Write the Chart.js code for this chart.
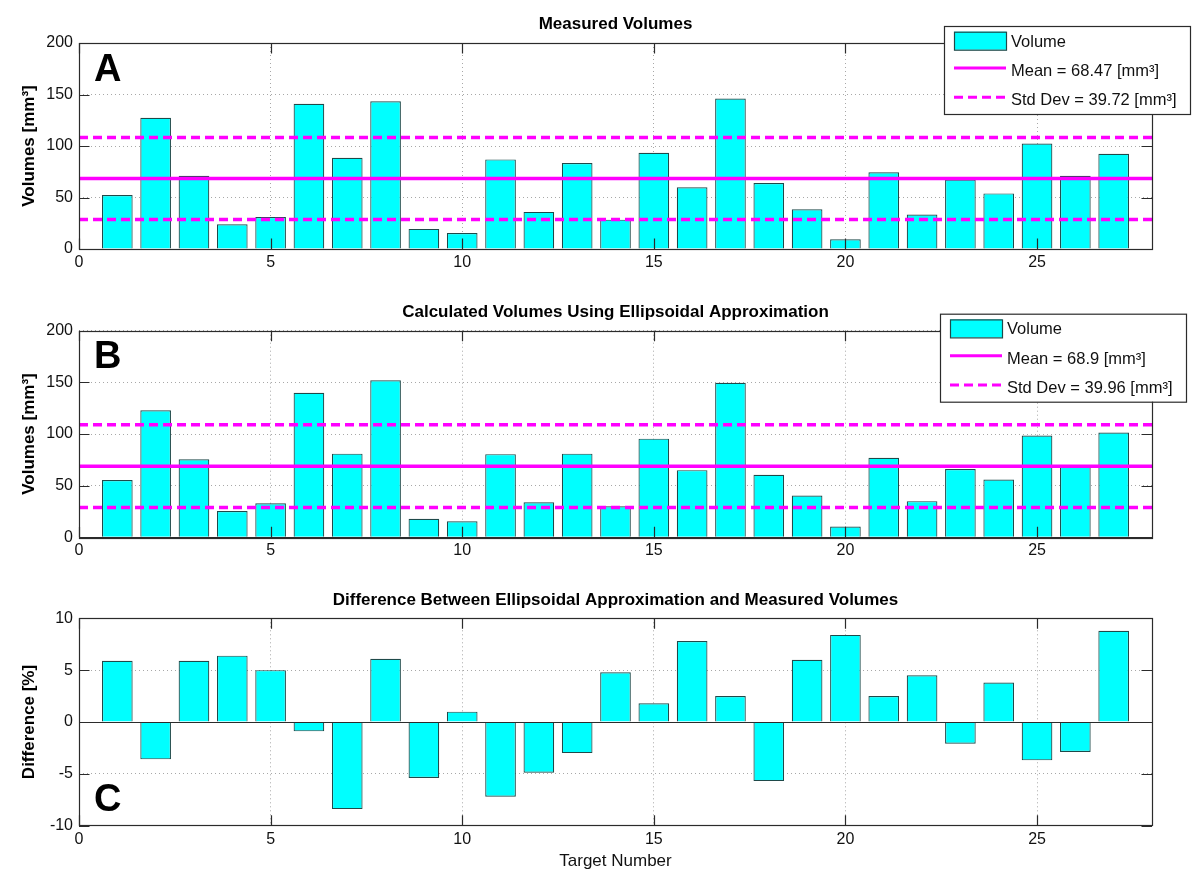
<!DOCTYPE html>
<html>
<head>
<meta charset="utf-8">
<title>Measured vs Ellipsoidal Volumes</title>
<script src="https://cdn.jsdelivr.net/npm/chart.js@4.4.0/dist/chart.umd.min.js"></script>
<style>
  html, body { margin: 0; padding: 0; background: #fff; }
  #wrap { position: relative; width: 1200px; height: 886px; }
  #wrap canvas { position: absolute; left: 0; }
</style>
</head>
<body>
<div id="wrap">
  <canvas id="chartA" width="1200" height="290" style="top:0"></canvas>
  <canvas id="chartB" width="1200" height="280" style="top:290px"></canvas>
  <canvas id="chartC" width="1200" height="316" style="top:570px"></canvas>
</div>
<script>
// ---- data ----
const targets = [1, 2, 3, 4, 5, 6, 7, 8, 9, 10, 11, 12, 13, 14, 15, 16, 17, 18, 19, 20, 21, 22, 23, 24, 25, 26, 27];
const measuredVolumes = [52.5, 127.5, 71, 24, 31, 141, 88.5, 143.5, 19.5, 15.5, 87, 36, 83.5, 28.5, 93.5, 60, 146, 64, 38.5, 9.5, 74.5, 33.5, 67.5, 54, 102.5, 71, 92.5];
const ellipsoidVolumes = [55.5, 123, 75.5, 25.5, 33, 140, 81, 152, 18, 15.5, 80.5, 34, 81, 30, 95.5, 65, 149.5, 60.5, 40.5, 10.5, 77, 35, 66, 56, 98.5, 69, 101.5];
const differences = [5.9, -3.6, 5.9, 6.4, 5.0, -0.9, -8.4, 6.1, -5.4, 1.0, -7.2, -4.9, -3.0, 4.8, 1.8, 7.8, 2.5, -5.7, 6.0, 8.4, 2.5, 4.5, -2.1, 3.8, -3.7, -2.9, 8.8];

const measuredMean = 68.47, measuredStd = 39.72;
const ellipsoidMean = 68.9, ellipsoidStd = 39.96;

const xRange = [0, 28];
const xTicks = [0, 5, 10, 15, 20, 25];
const volumeRange = [0, 200];
const volumeTicks = [0, 50, 100, 150, 200];
const diffRange = [-10, 10];
const diffTicks = [-10, -5, 0, 5, 10];

// ---- style ----
const FONT = "'Liberation Sans', Arial, Helvetica, sans-serif";
const axisColor = '#2b2b2b';
const gridColor = '#a8a8a8';
const barFill = '#00ffff';
const barEdge = '#1f4a4a';
const magenta = '#ff00ff';

Chart.defaults.font.family = FONT;
Chart.defaults.color = '#111';

function toPoints(values) {
  return targets.map((t, i) => ({ x: t, y: values[i] }));
}

function hLine(value) {
  return [{ x: xRange[0], y: value }, { x: xRange[1], y: value }];
}

function volumeDatasets(values, mean, std) {
  return [
    { type: 'bar', label: 'Volume', data: toPoints(values), backgroundColor: barFill, borderColor: barEdge, borderWidth: 1.2, barPercentage: 0.8, categoryPercentage: 1, order: 2 },
    { type: 'line', label: 'Mean = ' + mean + ' [mm³]', data: hLine(mean), borderColor: magenta, borderWidth: 3.5, pointRadius: 0, order: 1 },
    { type: 'line', label: 'Std Dev = ' + std + ' [mm³]', data: hLine(mean + std), borderColor: magenta, borderWidth: 3.5, borderDash: [9, 5], pointRadius: 0, order: 1 },
    { type: 'line', data: hLine(mean - std), borderColor: magenta, borderWidth: 3.5, borderDash: [9, 5], pointRadius: 0, order: 1 }
  ];
}

// legend box in the MATLAB style
function drawLegend(chart, left, width) {
  const { ctx, chartArea } = chart;
  const top = chartArea.top - 17;
  const items = chart.data.datasets.filter(d => d.label);
  const height = 88;
  ctx.save();
  ctx.fillStyle = '#fff';
  ctx.fillRect(left, top, width, height);
  ctx.strokeStyle = axisColor;
  ctx.lineWidth = 1.2;
  ctx.strokeRect(left + 0.5, top + 0.5, width, height);
  items.forEach((d, i) => {
    const base = top + 20.7 + i * 29.3;
    if (d.type === 'line') {
      ctx.strokeStyle = d.borderColor;
      ctx.lineWidth = 3;
      ctx.setLineDash(d.borderDash || []);
      ctx.beginPath();
      ctx.moveTo(left + 10, base - 8);
      ctx.lineTo(left + 62, base - 8);
      ctx.stroke();
      ctx.setLineDash([]);
    } else {
      ctx.fillStyle = d.backgroundColor;
      ctx.fillRect(left + 10, base - 15, 52, 18);
      ctx.strokeStyle = d.borderColor;
      ctx.lineWidth = 1.2;
      ctx.strokeRect(left + 10.5, base - 14.5, 52, 18);
    }
    ctx.fillStyle = '#111';
    ctx.font = '16.5px ' + FONT;
    ctx.textAlign = 'left';
    ctx.textBaseline = 'alphabetic';
    ctx.fillText(d.label, left + 67, base);
  });
  ctx.restore();
}

// box, inward ticks, zero baseline, title, panel letter, legend
const matlabFrame = {
  id: 'matlabFrame',
  afterDraw(chart, args, opts) {
    const { ctx, chartArea: a, scales: { x, y } } = chart;
    const tickLen = 10.5;
    ctx.save();
    ctx.strokeStyle = axisColor;
    ctx.lineWidth = 1.2;
    const y0 = Math.round(y.getPixelForValue(0)) + 0.5;
    ctx.beginPath();
    ctx.moveTo(a.left, y0);
    ctx.lineTo(a.right, y0);
    ctx.stroke();
    ctx.strokeRect(Math.round(a.left) + 0.5, Math.round(a.top) + 0.5, Math.round(a.width), Math.round(a.height));
    ctx.beginPath();
    x.ticks.forEach(t => {
      const px = Math.round(x.getPixelForValue(t.value)) + 0.5;
      ctx.moveTo(px, a.bottom); ctx.lineTo(px, a.bottom - tickLen);
      ctx.moveTo(px, a.top); ctx.lineTo(px, a.top + tickLen);
    });
    y.ticks.forEach(t => {
      const py = Math.round(y.getPixelForValue(t.value)) + 0.5;
      ctx.moveTo(a.left, py); ctx.lineTo(a.left + tickLen, py);
      ctx.moveTo(a.right, py); ctx.lineTo(a.right - tickLen, py);
    });
    ctx.stroke();

    ctx.fillStyle = '#000';
    ctx.font = 'bold 17px ' + FONT;
    ctx.textAlign = 'center';
    ctx.textBaseline = 'alphabetic';
    ctx.fillText(opts.title, (a.left + a.right) / 2, a.top - 13.8);

    ctx.font = 'bold 38px ' + FONT;
    ctx.textAlign = 'left';
    ctx.fillText(opts.letter, a.left + 15, opts.letterLow ? a.bottom - 14.5 : a.top + 37.5);
    ctx.restore();

    if (opts.legendLeft) drawLegend(chart, opts.legendLeft, 246);
  }
};

function makePanel(id, p) {
  return new Chart(document.getElementById(id), {
    type: 'bar',
    data: { datasets: p.datasets },
    options: {
      responsive: false,
      animation: false,
      events: [],
      layout: { padding: { top: p.top, right: 48, left: 0, bottom: 0 } },
      plugins: {
        legend: { display: false },
        tooltip: { enabled: false },
        matlabFrame: { title: p.title, letter: p.letter, letterLow: p.letterLow, legendLeft: p.legendLeft }
      },
      scales: {
        x: {
          type: 'linear',
          min: xRange[0],
          max: xRange[1],
          offset: false,
          afterBuildTicks: s => { s.ticks = xTicks.map(v => ({ value: v })); },
          afterFit: s => { s.height = p.xHeight; },
          grid: { offset: false, drawTicks: false, color: gridColor, lineWidth: 1 },
          border: { display: false, dash: [1, 3] },
          ticks: { padding: 4, autoSkip: false, maxRotation: 0, font: { size: 16 }, color: '#111' },
          title: p.xTitle ? { display: true, text: p.xTitle, font: { size: 17 }, color: '#111', padding: { top: 0, bottom: 14 } } : { display: false }
        },
        y: {
          type: 'linear',
          min: p.yRange[0],
          max: p.yRange[1],
          afterBuildTicks: s => { s.ticks = p.yTicks.map(v => ({ value: v })); },
          afterFit: s => { s.width = 79; },
          grid: { drawTicks: false, color: gridColor, lineWidth: 1 },
          border: { display: false, dash: [1, 3] },
          ticks: { padding: 6, font: { size: 16 }, color: '#111' },
          title: { display: true, text: p.yLabel, font: { size: 17, weight: 'bold' }, color: '#000', padding: { top: 19, bottom: 0 } }
        }
      }
    },
    plugins: [matlabFrame]
  });
}

makePanel('chartA', {
  datasets: volumeDatasets(measuredVolumes, measuredMean, measuredStd),
  title: 'Measured Volumes', letter: 'A', legendLeft: 944,
  top: 43, xHeight: 41,
  yRange: volumeRange, yTicks: volumeTicks, yLabel: 'Volumes [mm³]'
});

makePanel('chartB', {
  datasets: volumeDatasets(ellipsoidVolumes, ellipsoidMean, ellipsoidStd),
  title: 'Calculated Volumes Using Ellipsoidal Approximation', letter: 'B', legendLeft: 940,
  top: 40.7, xHeight: 32.7,
  yRange: volumeRange, yTicks: volumeTicks, yLabel: 'Volumes [mm³]'
});

makePanel('chartC', {
  datasets: [
    { type: 'bar', data: toPoints(differences), backgroundColor: barFill, borderColor: barEdge, borderWidth: 1.2, barPercentage: 0.8, categoryPercentage: 1 }
  ],
  title: 'Difference Between Ellipsoidal Approximation and Measured Volumes', letter: 'C', letterLow: true,
  top: 48.3, xHeight: 60.3, xTitle: 'Target Number',
  yRange: diffRange, yTicks: diffTicks, yLabel: 'Difference [%]'
});
</script>
</body>
</html>
